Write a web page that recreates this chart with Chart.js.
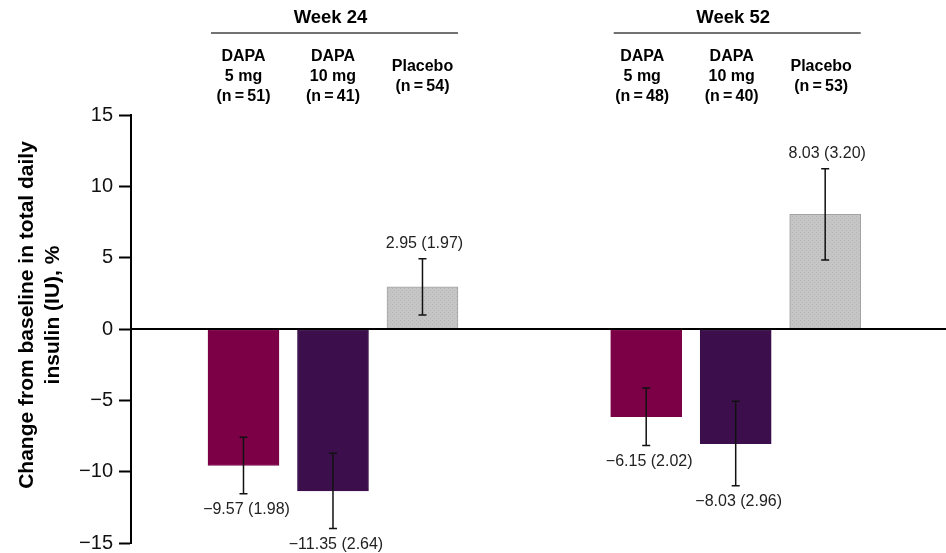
<!DOCTYPE html>
<html>
<head>
<meta charset="utf-8">
<script src="https://cdn.jsdelivr.net/npm/chart.js@4.4.1/dist/chart.umd.min.js"></script>
<style>
  body { margin: 0; background: #fff; }
  #contenedor { width: 946px; height: 553px; position: relative; }
</style>
</head>
<body>
<div id="contenedor"><canvas id="grafica"></canvas></div>
<script>
const semanas = ["Week 24", "Week 52"];
const brazos = [["DAPA", "5 mg"], ["DAPA", "10 mg"], ["Placebo"]];
const nPacientes = [[51, 41, 54], [48, 40, 53]];
const cambios = [[-9.57, -11.35, 2.95], [-6.15, -8.03, 8.03]];
const errores = [[1.98, 2.64, 1.97], [2.02, 2.96, 3.20]];
const ticksY = [-15, -10, -5, 0, 5, 10, 15];
const tituloY = ["Change from baseline in total daily", "insulin (IU), %"];

const fuente = "'Liberation Sans', Arial, sans-serif";
const ANCHO_BARRA = 71;
const SEPARACION_SEMANA = 4.5;

function patronPlacebo() {
  const c = document.createElement("canvas");
  c.width = 4; c.height = 4;
  const g = c.getContext("2d");
  g.fillStyle = "#c5c5c5"; g.fillRect(0, 0, 4, 4);
  g.fillStyle = "#b8b8b8"; g.fillRect(0, 0, 1, 1); g.fillRect(2, 2, 1, 1);
  return g.createPattern(c, "repeat");
}

const coloresBrazo = ["#7b0046", "#3c0f4c", patronPlacebo()];
const bordesBrazo = ["#7b0046", "#3c0f4c", "#a3a3a3"];

// posicion de cada barra: indice de semana y brazo
const puntos = [];
semanas.forEach((s, i) => {
  brazos.forEach((b, j) => {
    puntos.push({ x: i * SEPARACION_SEMANA + j + 1, y: cambios[i][j], e: errores[i][j], brazo: j });
  });
});

function formato(v) {
  return (v < 0 ? "\u2212" : "") + Math.abs(v).toFixed(2);
}

const extras = {
  id: "extras",
  afterDatasetsDraw(chart) {
    const { ctx, chartArea, scales: { x, y } } = chart;
    ctx.save();

    // linea del cero
    const y0 = y.getPixelForValue(0);
    ctx.strokeStyle = "#000";
    ctx.lineWidth = 2;
    ctx.beginPath();
    ctx.moveTo(chartArea.left, y0);
    ctx.lineTo(chartArea.right, y0);
    ctx.stroke();

    // barras de error y etiquetas
    ctx.font = "16px " + fuente;
    ctx.fillStyle = "#222";
    ctx.textAlign = "center";
    ctx.textBaseline = "middle";
    puntos.forEach(p => {
      const px = x.getPixelForValue(p.x);
      const yArriba = y.getPixelForValue(p.y + p.e);
      const yAbajo = y.getPixelForValue(p.y - p.e);
      ctx.strokeStyle = "#111";
      ctx.lineWidth = 1.5;
      ctx.beginPath();
      ctx.moveTo(px, yArriba); ctx.lineTo(px, yAbajo);
      ctx.moveTo(px - 4, yArriba); ctx.lineTo(px + 4, yArriba);
      ctx.moveTo(px - 4, yAbajo); ctx.lineTo(px + 4, yAbajo);
      ctx.stroke();
      const texto = formato(p.y) + " (" + p.e.toFixed(2) + ")";
      if (p.y >= 0) ctx.fillText(texto, px + 2, yArriba - 15);
      else ctx.fillText(texto, px + 3, yAbajo + 16);
    });

    // encabezados de semana y brazos
    ctx.fillStyle = "#000";
    semanas.forEach((s, i) => {
      const xs = brazos.map((b, j) => x.getPixelForValue(i * SEPARACION_SEMANA + j + 1));
      const izq = xs[0] - ANCHO_BARRA / 2 + 3;
      const der = xs[2] + ANCHO_BARRA / 2;
      ctx.font = "bold 18.5px " + fuente;
      ctx.fillText(s, (izq + der) / 2 - 4, 18);
      ctx.strokeStyle = "#444";
      ctx.lineWidth = 1.5;
      ctx.beginPath();
      ctx.moveTo(izq, 33); ctx.lineTo(der, 33);
      ctx.stroke();
      ctx.font = "bold 16px " + fuente;
      brazos.forEach((b, j) => {
        const lineas = b.concat(["(n\u2009=\u2009" + nPacientes[i][j] + ")"]);
        lineas.forEach((l, k) => {
          ctx.fillText(l, xs[j] - 4 * i, 77 + (k - (lineas.length - 1) / 2) * 20);
        });
      });
    });

    // titulo del eje y
    ctx.font = "bold 21px " + fuente;
    ctx.translate(0, 315);
    ctx.rotate(-Math.PI / 2);
    tituloY.forEach((t, k) => ctx.fillText(t, 0, 27 + k * 26));
    ctx.restore();
  }
};

const ctx = document.getElementById("grafica").getContext("2d");
new Chart(ctx, {
  type: "bar",
  data: {
    datasets: [{
      data: puntos.map(p => ({ x: p.x, y: p.y })),
      backgroundColor: puntos.map(p => coloresBrazo[p.brazo]),
      borderColor: puntos.map(p => bordesBrazo[p.brazo]),
      borderWidth: 1,
      borderSkipped: false,
      barThickness: ANCHO_BARRA
    }]
  },
  options: {
    responsive: true,
    maintainAspectRatio: false,
    animation: false,
    layout: { padding: { top: 115, bottom: 10, left: 0, right: 0 } },
    plugins: {
      legend: { display: false },
      tooltip: { enabled: false }
    },
    scales: {
      x: {
        type: "linear",
        display: false,
        offset: false,
        min: -0.257,
        max: 8.85
      },
      y: {
        min: -15,
        max: 15,
        afterFit: s => { s.width = 131; s.paddingTop = 0; s.paddingBottom = 0; },
        afterBuildTicks: s => { s.ticks = ticksY.map(v => ({ value: v })); },
        border: { display: true, color: "#000", width: 2 },
        grid: { drawOnChartArea: false, drawTicks: true, tickLength: 12, tickColor: "#000", tickWidth: 2 },
        ticks: {
          padding: 6,
          color: "#111",
          font: { size: 20, family: fuente },
          callback: v => (v < 0 ? "\u2212" : "") + Math.abs(v)
        }
      }
    }
  },
  plugins: [extras]
});
</script>
</body>
</html>
